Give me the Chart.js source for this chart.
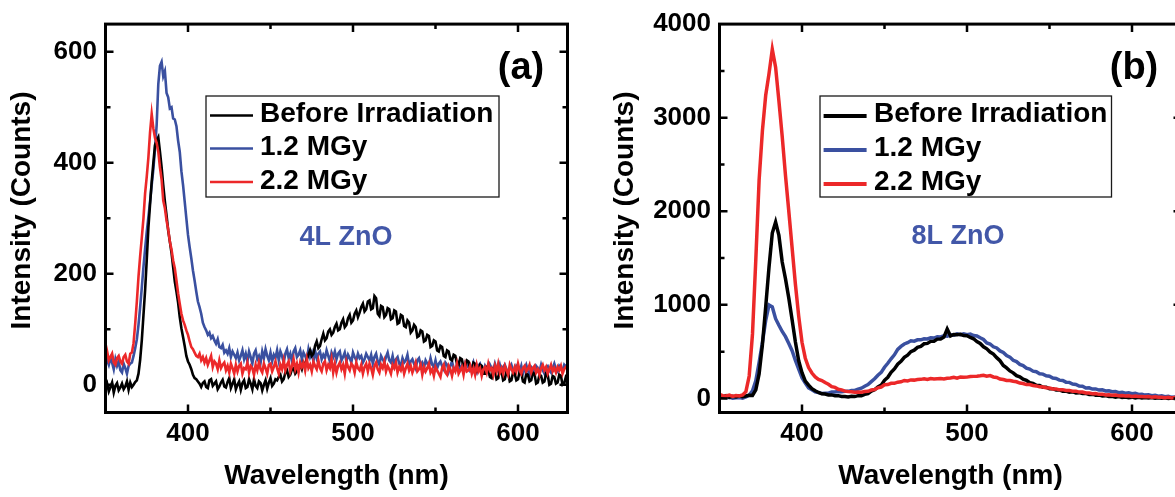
<!DOCTYPE html>
<html>
<head>
<meta charset="utf-8">
<title>ZnO photoluminescence spectra</title>
<script src="https://cdn.jsdelivr.net/npm/chart.js@4.4.0/dist/chart.umd.min.js"></script>
<style>
  html, body { margin: 0; padding: 0; background: #fff; overflow: hidden; width: 1175px; height: 497px; }
  .panel { position: absolute; top: 0; height: 497px; }
  #panelA { left: 0; width: 590px; }
  #panelB { left: 590px; width: 610px; }
</style>
</head>
<body>
<div class="panel" id="panelA"><canvas id="chartA" width="590" height="497"></canvas></div>
<div class="panel" id="panelB"><canvas id="chartB" width="610" height="497"></canvas></div>
<script>
// Emission wavelength grid (nm) for panel (a), 1 nm steps
const wavelengthsA = [
  350,351,352,353,354,355,356,357,358,359, 360,361,362,363,364,365,366,367,368,369,
  370,371,372,373,374,375,376,377,378,379, 380,381,382,383,384,385,386,387,388,389,
  390,391,392,393,394,395,396,397,398,399, 400,401,402,403,404,405,406,407,408,409,
  410,411,412,413,414,415,416,417,418,419, 420,421,422,423,424,425,426,427,428,429,
  430,431,432,433,434,435,436,437,438,439, 440,441,442,443,444,445,446,447,448,449,
  450,451,452,453,454,455,456,457,458,459, 460,461,462,463,464,465,466,467,468,469,
  470,471,472,473,474,475,476,477,478,479, 480,481,482,483,484,485,486,487,488,489,
  490,491,492,493,494,495,496,497,498,499, 500,501,502,503,504,505,506,507,508,509,
  510,511,512,513,514,515,516,517,518,519, 520,521,522,523,524,525,526,527,528,529,
  530,531,532,533,534,535,536,537,538,539, 540,541,542,543,544,545,546,547,548,549,
  550,551,552,553,554,555,556,557,558,559, 560,561,562,563,564,565,566,567,568,569,
  570,571,572,573,574,575,576,577,578,579, 580,581,582,583,584,585,586,587,588,589,
  590,591,592,593,594,595,596,597,598,599, 600,601,602,603,604,605,606,607,608,609,
  610,611,612,613,614,615,616,617,618,619, 620,621,622,623,624,625,626,627,628,629,
  630
];

// Emission wavelength grid (nm) for panel (b), 2 nm steps
const wavelengthsB = [
  350,352,354,356,358,360,362,364,366,368,
  370,372,374,376,378,380,382,384,386,388,
  390,392,394,396,398,400,402,404,406,408,
  410,412,414,416,418,420,422,424,426,428,
  430,432,434,436,438,440,442,444,446,448,
  450,452,454,456,458,460,462,464,466,468,
  470,472,474,476,478,480,482,484,486,488,
  490,492,494,496,498,500,502,504,506,508,
  510,512,514,516,518,520,522,524,526,528,
  530,532,534,536,538,540,542,544,546,548,
  550,552,554,556,558,560,562,564,566,568,
  570,572,574,576,578,580,582,584,586,588,
  590,592,594,596,598,600,602,604,606,608,
  610,612,614,616,618,620,622,624,626,628,
  630
];

const seriesNames = ['Before Irradiation', '1.2 MGy', '2.2 MGy'];

// (a) 4L ZnO — intensity in counts
const beforeA = [
  -6,2,-12,-4,4,-14,-2,3,-10,-5, 2,-8,-3,6,-9,4,-4,0,5,8,
  20,45,80,125,170,225,283,325,366,400, 432,440,446,420,392,360,330,305,278,258,
  238,212,186,168,148,122,102,86,70,52, 42,36,28,18,12,10,6,2,-4,3,
  6,-4,-6,8,10,-2,2,6,-8,-3, 4,9,-3,-5,5,12,-6,2,10,-8,
  0,6,-9,3,8,-6,-4,10,2,-8, 10,-2,-6,6,3,-10,0,8,-7,4,
  12,-2,2,10,8,14,18,6,10,22, 26,14,18,28,30,20,24,34,36,28,
  40,36,46,54,62,52,56,70,78,66, 70,82,92,80,84,96,100,90,94,104,
  110,98,100,112,118,104,108,120,126,112, 116,128,134,122,130,140,146,132,136,150,
  152,136,138,160,156,128,124,142,140,122, 126,138,136,118,120,134,132,110,112,126,
  124,106,104,116,112,94,98,108,104,86, 88,98,96,78,80,90,88,68,70,80,
  78,62,60,70,68,52,50,62,60,46, 44,54,52,38,36,48,46,30,32,44,
  42,28,26,40,38,24,26,36,34,20, 20,32,30,14,12,28,26,10,12,26,
  24,8,10,24,22,6,8,22,20,8, 10,24,22,6,4,20,18,6,8,22,
  20,2,4,18,16,4,6,20,18,0, 2,16,14,2,4,18,16,0,2,14,
  10
];
const dose12A = [
  54,44,36,48,40,28,46,34,42,26, 22,38,30,20,34,38,40,52,66,82,
  108,140,175,212,245,276,302,330,360,388, 425,468,542,575,582,556,565,526,518,498,
  500,480,478,466,440,420,385,360,330,300, 270,248,228,206,188,168,150,140,128,112,
  104,98,90,94,84,88,80,74,82,68, 66,72,58,62,56,66,50,60,54,48,
  58,44,52,62,46,56,42,60,50,38, 56,62,46,52,40,60,48,64,52,44,
  58,42,54,48,62,44,60,52,40,56, 64,48,56,42,60,66,50,54,62,46,
  58,52,44,64,50,58,42,62,48,56, 60,46,54,48,62,52,42,58,50,60,
  46,56,60,44,50,58,42,54,48,40, 58,50,44,56,48,52,40,46,56,50,
  44,54,38,50,56,42,36,52,46,40, 50,58,44,40,52,36,46,50,38,34,
  48,40,44,54,36,42,46,38,30,44, 48,36,40,30,44,38,34,48,36,32,
  44,30,38,42,34,28,40,36,24,34, 42,30,26,36,40,28,34,24,38,32,
  36,26,30,40,28,22,34,38,30,24, 34,28,22,36,30,26,38,28,24,36,
  24,32,36,28,20,30,36,26,22,34, 30,24,34,20,28,36,26,18,32,28,
  22,34,30,24,36,26,20,32,34,26, 22,30,38,28,24,34,30,26,36,32,
  38
];
const dose22A = [
  74,60,44,50,56,40,36,48,52,42, 38,50,54,42,38,56,58,75,110,150,
  195,232,265,300,345,375,410,455,488,462, 445,436,420,392,370,332,318,296,280,258,
  244,224,210,188,165,146,128,116,108,98, 90,78,68,64,58,52,50,56,44,50,
  40,48,36,44,52,32,42,38,28,44, 30,36,40,26,34,22,38,30,20,36,
  24,34,38,20,30,28,40,22,34,30, 18,36,26,40,28,22,38,30,20,36,
  38,24,32,42,30,20,36,28,44,26, 36,42,24,34,46,28,38,22,40,32,
  40,26,46,30,36,24,42,34,28,44, 30,24,38,42,26,36,30,46,22,38,
  22,34,40,28,36,20,42,32,26,38, 34,22,40,30,26,36,20,32,38,24,
  38,30,18,34,40,28,22,36,30,42, 24,34,28,20,36,30,40,22,32,26,
  36,20,30,38,26,34,22,30,40,24, 28,36,18,32,24,30,38,22,28,16,
  32,26,20,14,30,36,22,18,34,28, 16,30,24,38,20,26,32,18,36,24,
  26,34,20,30,18,36,24,30,16,28, 32,22,38,26,30,18,34,24,38,22,
  30,20,34,26,18,36,28,22,32,24, 38,26,20,30,34,24,28,36,22,30,
  34,22,28,18,30,36,26,32,20,28, 36,24,30,22,32,26,34,20,28,32,
  30
];

// (b) 8L ZnO — intensity in counts
const beforeB = [
  25,18,30,12,24,16,28,18,26,34,
  32,92,262,572,978,1402,1768,1884,1742,1458,
  1278,1072,842,604,402,276,186,142,104,82,
  64,50,48,38,38,30,30,22,22,16,
  24,20,30,28,44,52,78,92,124,142,
  194,226,280,316,366,396,440,462,500,516,
  546,556,584,588,610,612,634,636,656,742,
  668,684,682,686,672,670,652,638,608,588,
  552,530,496,474,436,404,352,326,294,274,
  244,232,206,194,168,162,142,138,120,120,
  104,104,90,92,78,80,68,72,58,62,
  52,54,42,46,34,38,26,30,20,24,
  14,20,10,16,8,14,6,12,4,10,
  4,10,2,8,2,8,0,6,0,4,
  2
];
const dose12B = [
  22,14,10,12,2,8,10,4,16,36,
  82,188,384,598,834,998,978,852,782,716,
  660,586,510,406,314,222,164,112,92,70,
  62,54,56,56,68,68,74,72,78,76,
  84,86,100,110,130,148,180,210,248,278,
  334,376,424,466,524,556,582,596,616,612,
  626,626,638,636,648,646,660,658,670,666,
  680,676,690,682,692,682,688,672,668,648,
  630,594,582,552,540,508,492,458,442,408,
  394,364,352,324,314,292,286,264,260,242,
  238,218,214,196,192,174,172,154,150,132,
  130,112,114,100,102,90,92,80,82,72,
  74,62,66,56,60,50,54,42,46,36,
  40,30,34,24,28,18,22,12,16,8,
  10
];
const dose22B = [
  42,30,26,36,22,32,26,38,72,240,
  690,1480,2330,2860,3240,3470,3730,3540,3180,2800,
  2380,2000,1610,1220,880,600,430,330,272,230,
  204,192,170,152,126,118,98,92,78,74,
  72,66,70,66,74,76,90,96,114,122,
  146,148,162,162,174,178,192,188,198,196,
  202,204,210,202,212,208,210,212,208,216,
  218,226,216,230,226,228,234,236,238,242,
  248,238,244,230,224,208,202,192,192,184,
  178,164,160,148,148,138,134,124,122,114,
  112,102,102,92,94,86,86,78,78,68,
  68,58,58,50,52,44,46,38,40,34,
  36,30,32,26,28,22,26,20,22,18,
  20,14,18,12,14,8,12,6,10,6,
  8
];

// Axis ticks: every value gets a tick mark, only the listed ones get a label
const xTickValues = [400, 450, 500, 550, 600];
const xTickLabels = [400, 500, 600];
const yTickValuesA = [0, 100, 200, 300, 400, 500, 600];
const yTickLabelsA = [0, 200, 400, 600];
const yTickValuesB = [0, 500, 1000, 1500, 2000, 2500, 3000, 3500, 4000];
const yTickLabelsB = [0, 1000, 2000, 3000, 4000];

const FONT = '"Liberation Sans", Arial, Helvetica, sans-serif';
Chart.defaults.font.family = FONT;
Chart.defaults.color = '#000';

const lineColors = ['#000000', '#3A50A0', '#EC2829'];
const drawOrder = [1, 2, 0];

// Closed box frame with inward major/minor ticks on all four sides
const frameTicks = {
  id: 'frameTicks',
  afterDatasetsDraw(chart, args, o) {
    const { ctx, chartArea: a, scales: { x, y } } = chart;
    ctx.save();
    ctx.strokeStyle = '#000';
    ctx.lineWidth = o.tickWidth;
    ctx.beginPath();
    x.ticks.forEach(t => {
      if (t.value <= x.min || t.value >= x.max) return;
      const px = x.getPixelForValue(t.value);
      const len = t.label !== '' ? o.major : o.minor;
      ctx.moveTo(px, a.bottom); ctx.lineTo(px, a.bottom - len);
      ctx.moveTo(px, a.top); ctx.lineTo(px, a.top + len);
    });
    y.ticks.forEach(t => {
      if (t.value <= y.min || t.value >= y.max) return;
      const py = y.getPixelForValue(t.value);
      const len = t.label !== '' ? o.major : o.minor;
      ctx.moveTo(a.left, py); ctx.lineTo(a.left + len, py);
      ctx.moveTo(a.right, py); ctx.lineTo(a.right - len, py);
    });
    ctx.stroke();
    ctx.lineWidth = o.frameWidth;
    ctx.strokeRect(a.left, a.top, a.right - a.left, a.bottom - a.top);
    ctx.restore();
  }
};

// Framed legend inside the plot area
const boxLegend = {
  id: 'boxLegend',
  afterDraw(chart, args, o) {
    const ctx = chart.ctx;
    ctx.save();
    ctx.fillStyle = '#fff';
    ctx.fillRect(o.left, o.top, o.width, o.height);
    ctx.strokeStyle = '#1a1a1a';
    ctx.lineWidth = 1.3;
    ctx.strokeRect(o.left, o.top, o.width, o.height);
    ctx.font = 'bold ' + o.fontSize + 'px ' + FONT;
    ctx.textBaseline = 'middle';
    ctx.textAlign = 'left';
    chart.data.datasets.forEach((ds, i) => {
      const yy = o.rows[i];
      ctx.strokeStyle = ds.borderColor;
      ctx.lineWidth = o.lineWidth;
      ctx.beginPath();
      ctx.moveTo(o.lineX0, yy + o.lineDy);
      ctx.lineTo(o.lineX1, yy + o.lineDy);
      ctx.stroke();
      ctx.fillStyle = '#000';
      ctx.fillText(ds.label, o.textX, yy);
    });
    ctx.restore();
  }
};

// Free text: panel letter, sample name and the vertical axis title
const panelText = {
  id: 'panelText',
  afterDraw(chart, args, o) {
    const ctx = chart.ctx;
    o.items.forEach(it => {
      ctx.save();
      ctx.textAlign = 'center';
      ctx.textBaseline = 'middle';
      ctx.font = 'bold ' + it.size + 'px ' + FONT;
      ctx.fillStyle = it.color;
      ctx.translate(it.x, it.y);
      if (it.rotate) ctx.rotate(it.rotate);
      ctx.fillText(it.text, 0, 0);
      ctx.restore();
    });
  }
};

function buildChart(canvasId, cfg) {
  const datasets = seriesNames.map((name, k) => ({
    label: name,
    data: cfg.wavelengths.map((w, i) => ({ x: w, y: cfg.series[k][i] })),
    borderColor: lineColors[k],
    backgroundColor: lineColors[k],
    borderWidth: cfg.lineWidth,
    pointRadius: 0,
    tension: 0,
    fill: false,
    order: drawOrder[k]
  }));
  return new Chart(document.getElementById(canvasId), {
    type: 'line',
    data: { datasets },
    options: {
      responsive: false,
      animation: false,
      devicePixelRatio: 1,
      layout: { padding: { left: 0, top: 19.5, right: cfg.padRight, bottom: 0 } },
      plugins: {
        legend: { display: false },
        tooltip: { enabled: false },
        frameTicks: { tickWidth: 2.5, major: 8, minor: 5, frameWidth: 3 },
        boxLegend: cfg.legend,
        panelText: { items: cfg.texts }
      },
      scales: {
        x: {
          type: 'linear',
          min: 350,
          max: 630,
          afterBuildTicks: s => { s.ticks = xTickValues.map(v => ({ value: v })); },
          afterFit: s => { s.height = 84.5; },
          grid: { display: false, drawTicks: false },
          border: { display: false },
          ticks: {
            padding: 6, maxRotation: 0, autoSkip: false,
            font: { size: 26, weight: 'bold' }, color: '#000',
            callback: v => (xTickLabels.includes(v) ? String(v) : '')
          },
          title: {
            display: true, text: 'Wavelength (nm)', color: '#000',
            font: { size: 28, weight: 'bold' }, padding: { top: 0, bottom: 3.6 }
          }
        },
        y: {
          type: 'linear',
          min: cfg.yMin,
          max: cfg.yMax,
          afterBuildTicks: s => { s.ticks = cfg.yTicks.map(v => ({ value: v })); },
          afterFit: s => { s.width = cfg.yAxisWidth; },
          grid: { display: false, drawTicks: false },
          border: { display: false },
          ticks: {
            padding: cfg.yTickPad, autoSkip: false,
            font: { size: 26, weight: 'bold' }, color: '#000',
            callback: v => (cfg.yLabels.includes(v) ? String(v) : '')
          },
          title: { display: false }
        }
      }
    },
    plugins: [frameTicks, boxLegend, panelText]
  });
}

buildChart('chartA', {
  wavelengths: wavelengthsA,
  series: [beforeA, dose12A, dose22A],
  lineWidth: 2.6,
  yMin: -50, yMax: 650,
  yTicks: yTickValuesA, yLabels: yTickLabelsA,
  yAxisWidth: 105.5, yTickPad: 8.5,
  padRight: 22.5,
  legend: {
    left: 206, top: 96, width: 293, height: 101,
    rows: [114.5, 147.5, 181], lineDy: 1,
    lineX0: 210, lineX1: 253, textX: 260,
    fontSize: 28, lineWidth: 2.6
  },
  texts: [
    { text: 'Intensity (Counts)', x: 22.6, y: 210.5, size: 28, color: '#000', rotate: -Math.PI / 2 },
    { text: '(a)', x: 521, y: 69, size: 38, color: '#000' },
    { text: '4L ZnO', x: 346, y: 238, size: 27, color: '#4257A8' }
  ]
});

buildChart('chartB', {
  wavelengths: wavelengthsB,
  series: [beforeB, dose12B, dose22B],
  lineWidth: 3.5,
  yMin: -150, yMax: 4000,
  yTicks: yTickValuesB, yLabels: yTickLabelsB,
  yAxisWidth: 129.5, yTickPad: 8.5,
  padRight: 18.5,
  legend: {
    left: 230, top: 96, width: 291.5, height: 101,
    rows: [114.5, 148.5, 182.5], lineDy: 1.5,
    lineX0: 233.6, lineX1: 276.6, textX: 284,
    fontSize: 28, lineWidth: 3.8
  },
  texts: [
    { text: 'Intensity (Counts)', x: 35.2, y: 210.5, size: 28, color: '#000', rotate: -Math.PI / 2 },
    { text: '(b)', x: 544, y: 69, size: 38, color: '#000' },
    { text: '8L ZnO', x: 368, y: 237, size: 27, color: '#4257A8' }
  ]
});
</script>
</body>
</html>
